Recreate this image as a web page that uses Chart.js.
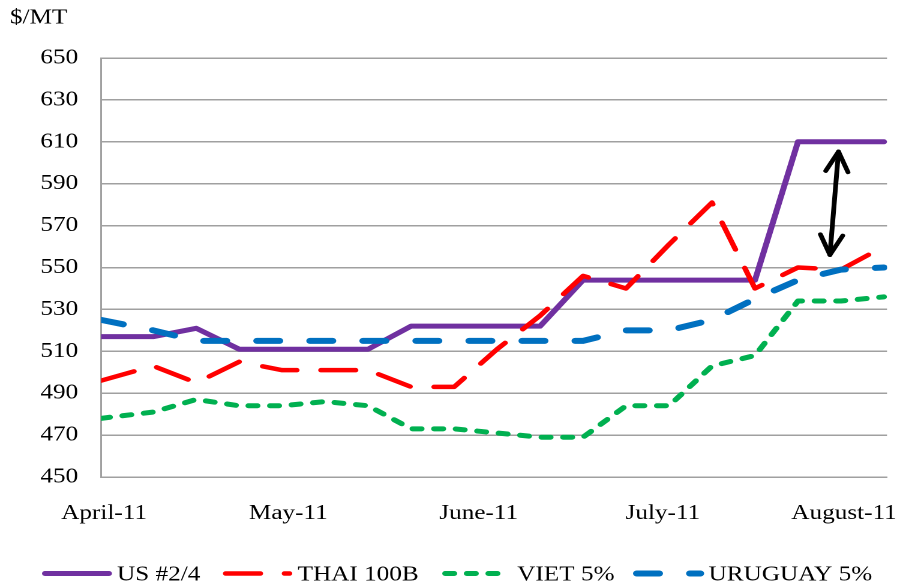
<!DOCTYPE html>
<html>
<head>
<meta charset="utf-8">
<script src="https://cdn.jsdelivr.net/npm/chart.js@4.4.0/dist/chart.umd.min.js"></script>
<style>
  html, body { margin: 0; padding: 0; background: #fff; overflow: hidden; }
  /* the source picture is stretched sideways, so draw narrow and widen */
  #wrap { width: 755px; height: 585px; transform: scaleX(1.2); transform-origin: 0 0; }
</style>
</head>
<body>
<div id="wrap"><canvas id="chart" width="755" height="585"></canvas></div>
<script>
// weekly quotes, x = days counted from April 1, 2011
const days = [-0.5, 8, 15, 22, 29, 36, 43, 50, 57, 64, 71, 78, 85, 92, 99, 106, 113, 120, 127];
const usPrice = [517, 517, 521, 511, 511, 511, 511, 522, 522, 522, 522, 544, 544, 544, 544, 544, 610, 610, 610];
const thaiPrice = [496, 503, 495, 505, 501, 501, 501, 493, 493, 511, 527, 546, 540, 561, 581, 540, 550, 549, 560];
const vietPrice = [478, 481, 487, 484, 484, 486, 484, 473, 473, 471, 469, 469, 484, 484, 503, 508, 534, 534, 536];
const uruguayPrice = [525, 520, 515, 515, 515, 515, 515, 515, 515, 515, 515, 515, 520, 520, 525, 535, 544, 549, 550];
const seriesNames = ["US #2/4", "THAI 100B", "VIET 5%", "URUGUAY 5%"];

// month labels (last one pulled in a bit so it fits, like the source)
const monthTicks = [0, 30, 61, 91, 120.5];
const monthLabels = ["April-11", "May-11", "June-11", "July-11", "August-11"];

// arrow showing the US premium, in data units [day, price]
const arrowTop = [119.6, 605.3];
const arrowBottom = [118.2, 556];

const serif = "'Liberation Serif', 'Times New Roman', serif";
const gridGray = "#a0a0a0";

function points(values) {
  return days.map((d, i) => ({ x: d, y: values[i] }));
}

// unit label, arrow and the bottom legend
const extras = {
  id: "extras",
  afterDraw(chart) {
    const ctx = chart.ctx;
    const xs = chart.scales.x;
    const ys = chart.scales.y;
    ctx.save();

    ctx.font = "21px " + serif;
    ctx.fillStyle = "#000";
    ctx.textBaseline = "middle";
    ctx.textAlign = "left";
    ctx.fillText("$/MT", 8.3, 18);

    // double headed arrow
    const tx = xs.getPixelForValue(arrowTop[0]), ty = ys.getPixelForValue(arrowTop[1]);
    const bx = xs.getPixelForValue(arrowBottom[0]), by = ys.getPixelForValue(arrowBottom[1]);
    ctx.strokeStyle = "#000";
    ctx.lineWidth = 4;
    ctx.lineCap = "round";
    ctx.lineJoin = "round";
    ctx.beginPath();
    ctx.moveTo(tx, ty);
    ctx.lineTo(bx, by);
    ctx.stroke();
    const len = Math.hypot(bx - tx, by - ty);
    const ux = (bx - tx) / len, uy = (by - ty) / len;
    const head = (px, py, dx, dy) => {
      const a = 25 * Math.PI / 180, L = 22;
      const c = Math.cos(a), s = Math.sin(a);
      ctx.beginPath();
      ctx.moveTo(px + L * (dx * c - dy * s), py + L * (dx * s + dy * c));
      ctx.lineTo(px, py);
      ctx.lineTo(px + L * (dx * c + dy * s), py + L * (-dx * s + dy * c));
      ctx.stroke();
    };
    head(tx, ty, ux, uy);
    head(bx, by, -ux, -uy);

    // legend
    const legendX = [37.5, 188, 371, 530.5];
    const legendY = 573.5;
    chart.data.datasets.forEach((ds, i) => {
      const x0 = legendX[i];
      ctx.beginPath();
      ctx.setLineDash(ds.borderDash || []);
      ctx.lineDashOffset = 0;
      ctx.lineWidth = ds.borderWidth;
      ctx.strokeStyle = ds.borderColor;
      ctx.lineCap = "round";
      ctx.moveTo(x0, legendY);
      ctx.lineTo(x0 + 53.3, legendY);
      ctx.stroke();
      ctx.setLineDash([]);
      ctx.fillStyle = "#000";
      ctx.fillText(ds.label, x0 + 60, 575);
    });

    ctx.restore();
  }
};

const common = {
  pointRadius: 0,
  fill: false,
  tension: 0,
  borderCapStyle: "round",
  borderJoinStyle: "round"
};

new Chart(document.getElementById("chart"), {
  type: "line",
  plugins: [extras],
  data: {
    datasets: [
      { ...common, label: seriesNames[0], data: points(usPrice), borderColor: "#7030A0", borderWidth: 5, order: 3 },
      { ...common, label: seriesNames[1], data: points(thaiPrice), borderColor: "#FF0000", borderWidth: 4.5, borderDash: [29, 20], order: 2 },
      { ...common, label: seriesNames[2], data: points(vietPrice), borderColor: "#00B050", borderWidth: 5, borderDash: [7.5, 10.5], order: 1 },
      { ...common, label: seriesNames[3], data: points(uruguayPrice), borderColor: "#0070C0", borderWidth: 6, borderDash: [19, 25.2], order: 0 }
    ]
  },
  options: {
    responsive: false,
    devicePixelRatio: 2,
    animation: false,
    events: [],
    layout: { padding: { left: 4.17, right: 15.83, top: 58, bottom: 38 } },
    plugins: {
      legend: { display: false },
      tooltip: { enabled: false }
    },
    scales: {
      x: {
        type: "linear",
        min: -0.5,
        max: 127.5,
        afterBuildTicks: (s) => { s.ticks = monthTicks.map(v => ({ value: v })); },
        afterFit: (s) => { s.height = 70; s.paddingLeft = 0; s.paddingRight = 0; },
        grid: { display: false, drawTicks: false },
        border: { display: true, color: gridGray, width: 1.5 },
        ticks: {
          autoSkip: false,
          maxRotation: 0,
          padding: 24,
          color: "#000",
          font: { family: serif, size: 21 },
          callback: (v, i) => monthLabels[i]
        }
      },
      y: {
        min: 450,
        max: 650,
        afterFit: (s) => { s.width = 80; s.paddingTop = 0; s.paddingBottom = 0; },
        grid: { color: gridGray, lineWidth: 1.5, drawTicks: false },
        border: { display: true, color: gridGray, width: 1.5 },
        ticks: {
          stepSize: 20,
          padding: 19,
          color: "#000",
          font: { family: serif, size: 21 }
        }
      }
    }
  }
});
</script>
</body>
</html>
